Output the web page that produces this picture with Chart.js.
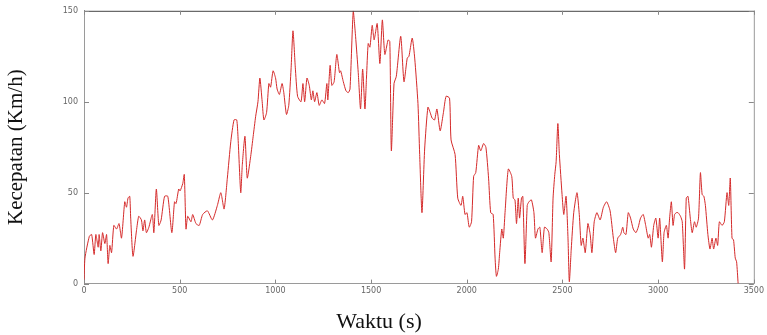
<!DOCTYPE html>
<html>
<head>
<meta charset="utf-8">
<script src="https://cdn.jsdelivr.net/npm/chart.js@4.4.1/dist/chart.umd.min.js"></script>
<style>
  html, body { margin: 0; padding: 0; background: #fff; }
  #wrap { width: 767px; height: 335px; }
</style>
</head>
<body>
<div id="wrap"><canvas id="speedChart" width="767" height="335"></canvas></div>
<script>
// waktu (s) dan kecepatan (km/h)
const times = [0, 5, 28, 40, 53, 62, 74, 79, 88, 97, 109, 118, 126, 135, 144, 156, 170, 183, 196, 213,
  222, 230, 239, 244, 256, 274, 286, 300, 308, 317, 326, 339, 357, 365, 378, 391, 403, 421, 438, 459,
  473, 481, 495, 502, 516, 524, 533, 542, 559, 568, 585, 602, 620, 645, 671, 697, 715, 732, 749, 767,
  784, 798, 805, 819, 827, 841, 853, 871, 884, 897, 909, 919, 931, 940, 954, 966, 975, 988, 1001, 1009,
  1021, 1035, 1044, 1058, 1070, 1082, 1092, 1104, 1116, 1134, 1144, 1153, 1165, 1177, 1188, 1196, 1205, 1217, 1229, 1243,
  1257, 1269, 1274, 1286, 1295, 1307, 1321, 1335, 1341, 1355, 1369, 1381, 1390, 1407, 1419, 1433, 1445, 1456, 1468, 1476,
  1485, 1494, 1506, 1516, 1532, 1546, 1559, 1572, 1589, 1598, 1606, 1620, 1632, 1655, 1672, 1689, 1698, 1715, 1728, 1745,
  1754, 1766, 1780, 1797, 1809, 1819, 1832, 1844, 1861, 1878, 1892, 1910, 1918, 1939, 1953, 1970, 1979, 1991, 2001, 2013,
  2025, 2036, 2047, 2062, 2073, 2088, 2100, 2114, 2125, 2138, 2148, 2155, 2165, 2172, 2183, 2191, 2200, 2217, 2235, 2243,
  2252, 2260, 2269, 2276, 2286, 2293, 2304, 2316, 2325, 2338, 2351, 2359, 2372, 2382, 2394, 2406, 2420, 2429, 2441, 2451,
  2460, 2467, 2476, 2484, 2498, 2507, 2519, 2529, 2536, 2546, 2559, 2576, 2588, 2598, 2607, 2619, 2633, 2645, 2654, 2666,
  2680, 2697, 2714, 2731, 2749, 2766, 2778, 2789, 2804, 2815, 2821, 2832, 2844, 2856, 2870, 2884, 2896, 2908, 2922, 2935,
  2948, 2956, 2965, 2977, 2988, 3000, 3008, 3022, 3031, 3043, 3052, 3060, 3069, 3078, 3086, 3095, 3104, 3117, 3126, 3138,
  3147, 3156, 3168, 3178, 3190, 3199, 3211, 3221, 3230, 3239, 3247, 3260, 3271, 3282, 3290, 3302, 3311, 3320, 3334, 3346,
  3360, 3369, 3377, 3386, 3394, 3403, 3410, 3418];
const speeds = [0, 14, 26, 27, 16, 27, 20, 27, 18, 28, 22, 27, 11, 21, 17, 32, 30, 33, 25, 45,
  42, 47, 48, 36, 15, 29, 37, 35, 29, 35, 28, 31, 38, 28, 52, 32, 35, 48, 48, 28,
  45, 44, 52, 51, 55, 60, 30, 37, 34, 38, 33, 32, 38, 40, 35, 43, 50, 41, 58, 78,
  90, 90, 80, 50, 65, 81, 58, 70, 81, 92, 100, 113, 100, 90, 94, 110, 108, 117, 113, 107,
  104, 110, 105, 93, 98, 118, 139, 119, 103, 100, 110, 100, 113, 109, 101, 106, 100, 105, 98, 101,
  99, 110, 101, 120, 109, 111, 126, 116, 117, 111, 106, 105, 107, 150, 136, 116, 96, 118, 96, 113,
  132, 130, 142, 134, 143, 121, 145, 126, 134, 133, 73, 110, 114, 136, 111, 124, 125, 135, 124, 99,
  71, 39, 74, 97, 94, 91, 90, 96, 84, 94, 103, 102, 79, 71, 47, 43, 48, 38, 39, 31,
  34, 59, 61, 76, 73, 77, 75, 58, 39, 38, 14, 4, 8, 17, 30, 25, 39, 63, 59, 47,
  46, 33, 47, 36, 47, 48, 11, 43, 45, 46, 39, 25, 30, 31, 17, 31, 30, 28, 12, 47,
  60, 67, 88, 71, 49, 38, 48, 25, 1, 19, 39, 50, 38, 21, 25, 17, 33, 27, 17, 34,
  39, 35, 42, 45, 40, 25, 17, 25, 27, 31, 28, 27, 39, 36, 30, 28, 31, 36, 38, 32,
  25, 27, 20, 32, 36, 25, 36, 12, 28, 32, 25, 36, 45, 32, 38, 39, 39, 37, 34, 8,
  47, 48, 36, 28, 34, 31, 36, 61, 49, 48, 43, 27, 19, 25, 19, 25, 21, 34, 32, 34,
  50, 43, 58, 25, 24, 14, 12, 0];
const xTicks = [0, 500, 1000, 1500, 2000, 2500, 3000, 3500];
const yTicks = [0, 50, 100, 150];

const points = times.map((t, i) => ({ x: t, y: speeds[i] }));

// kotak dan tick ke dalam (gaya matlab)
const boxTicks = {
  id: 'boxTicks',
  afterDatasetsDraw(chart) {
    const { ctx, chartArea: a, scales: { x, y } } = chart;
    ctx.save();
    ctx.lineWidth = 1;
    ctx.strokeStyle = '#9a9a9a';
    ctx.beginPath();
    ctx.moveTo(a.right + 0.5, a.top);
    ctx.lineTo(a.right + 0.5, a.bottom);
    ctx.stroke();
    ctx.strokeStyle = '#444';
    ctx.beginPath();
    ctx.moveTo(a.left, a.top + 0.5);
    ctx.lineTo(a.right + 1, a.top + 0.5);
    ctx.stroke();
    ctx.strokeStyle = '#888';
    ctx.beginPath();
    xTicks.forEach(v => {
      const px = Math.round(x.getPixelForValue(v)) + 0.5;
      ctx.moveTo(px, a.bottom); ctx.lineTo(px, a.bottom - 4);
      ctx.moveTo(px, a.top); ctx.lineTo(px, a.top + 4);
    });
    yTicks.forEach(v => {
      const py = Math.round(y.getPixelForValue(v)) + 0.5;
      ctx.moveTo(a.left, py); ctx.lineTo(a.left + 5, py);
      ctx.moveTo(a.right, py); ctx.lineTo(a.right - 5, py);
    });
    ctx.stroke();
    ctx.restore();
  }
};

const ctx = document.getElementById('speedChart').getContext('2d');
const speedChart = new Chart(ctx, {
  type: 'line',
  data: {
    datasets: [{
      label: 'Kecepatan',
      data: points,
      borderColor: '#d42a2a',
      borderWidth: 1,
      pointRadius: 0,
      tension: 0.2,
      fill: false
    }]
  },
  options: {
    responsive: false,
    animation: false,
    layout: { padding: { top: 10, right: 9, left: 0, bottom: 0 } },
    plugins: {
      legend: { display: false },
      tooltip: { enabled: false },
      title: {
        display: true,
        position: 'bottom',
        text: 'Waktu (s)',
        color: '#111',
        font: { family: 'Liberation Serif', size: 22, weight: 'normal' },
        padding: { top: 0, bottom: 0 }
      }
    },
    scales: {
      x: {
        type: 'linear',
        min: 0,
        max: 3500,
        afterFit: s => { s.height = 25; },
        afterBuildTicks: s => { s.ticks = xTicks.map(v => ({ value: v })); },
        grid: { display: false, drawTicks: false },
        border: { display: true, color: '#9a9a9a', width: 1 },
        ticks: {
          color: '#666', padding: 3, maxRotation: 0,
          font: { family: 'DejaVu Sans', size: 8 },
          callback: v => String(v)
        }
      },
      y: {
        min: 0,
        max: 150,
        afterFit: s => { s.width = 84; },
        afterBuildTicks: s => { s.ticks = yTicks.map(v => ({ value: v })); },
        grid: { display: false, drawTicks: false },
        border: { display: true, color: '#9a9a9a', width: 1 },
        ticks: {
          color: '#666', padding: 6,
          font: { family: 'DejaVu Sans', size: 8 },
          callback: v => String(v)
        },
        title: {
          display: true,
          text: 'Kecepatan (Km/h)',
          color: '#111',
          font: { family: 'Liberation Serif', size: 21, weight: 'normal' },
          padding: { top: 4, bottom: 0 }
        }
      }
    }
  },
  plugins: [boxTicks]
});
</script>
</body>
</html>
